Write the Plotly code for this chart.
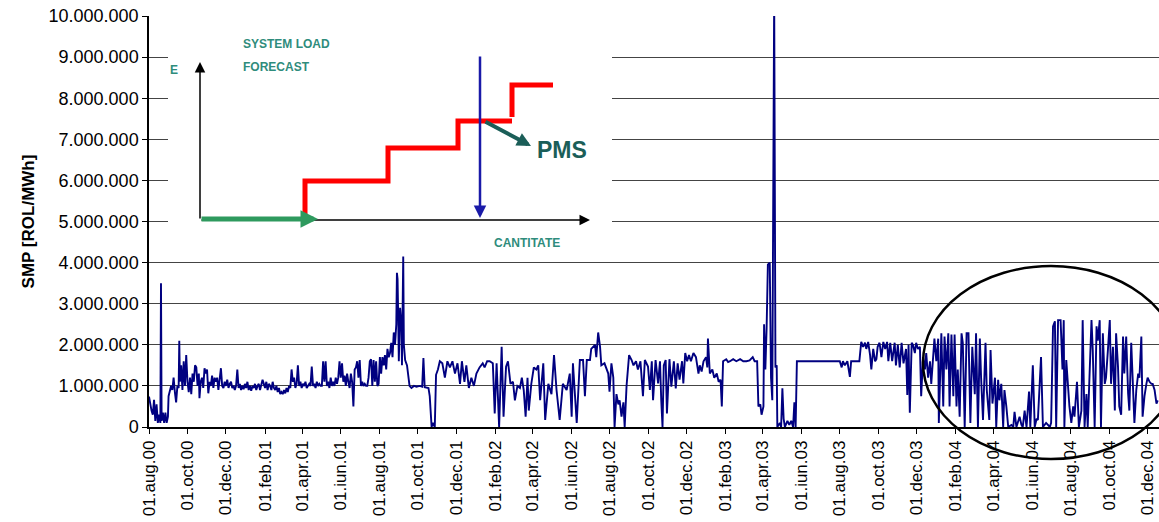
import pandas as pd
import plotly.graph_objects as go

# daily SMP: (days since 01.aug.2000, value in million ROL/MWh)
smp_2000 = [(0, 0.74), (2, 0.55), (4, 0.4), (6, 0.3), (8, 0.66), (10, 0.15), (12, 0.55), (14, 0.1), (16, 0.3),
            (18, 0.1), (19, 3.5), (20, 0.15), (22, 0.35), (24, 0.1), (26, 0.35), (28, 0.1), (30, 0.25), (31, 0.75),
            (33, 0.9), (35, 1.0), (37, 0.9), (39, 1.2), (41, 0.85), (43, 0.6), (45, 1.0), (47, 0.95), (48, 2.1),
            (49, 1.1), (51, 1.5), (53, 0.9), (55, 1.6), (57, 1.0), (59, 1.75), (61, 1.1), (63, 0.85), (65, 1.2),
            (67, 0.8), (69, 1.3), (71, 1.1), (73, 1.5), (75, 1.45), (77, 1.0), (79, 1.3), (80, 0.7), (82, 1.1),
            (84, 1.2), (86, 0.95), (88, 1.43), (90, 1.3), (92, 1.4), (94, 0.82), (96, 1.1), (98, 1.0), (100, 1.25),
            (102, 0.95), (104, 1.2), (106, 1.1), (108, 1.2), (110, 0.9), (112, 1.25), (114, 1.43), (116, 1.0),
            (118, 0.95), (120, 1.1), (122, 1.0), (124, 1.15), (126, 0.95), (128, 1.05), (130, 1.1), (132, 0.95),
            (134, 1.0), (136, 0.9), (138, 1.0), (140, 1.4), (142, 0.95), (144, 1.05), (146, 0.9), (148, 1.0),
            (150, 0.92), (152, 1.05)]

smp_2001 = [(154, 0.95), (156, 1.1), (158, 0.9), (160, 1.0), (162, 0.88), (164, 1.0), (166, 0.95), (168, 1.05),
            (170, 0.9), (172, 1.0), (174, 1.05), (176, 0.9), (178, 1.0), (180, 1.15), (182, 1.05), (184, 0.95),
            (186, 1.1), (188, 0.9), (190, 1.05), (192, 1.0), (194, 0.9), (196, 1.1), (198, 0.95), (200, 0.9),
            (202, 1.0), (204, 0.85), (206, 0.95), (208, 0.8), (210, 0.85), (212, 0.8), (214, 0.9), (216, 0.82),
            (218, 0.95), (220, 0.85), (222, 1.0), (224, 0.95), (226, 1.4), (228, 1.1), (230, 1.2), (232, 0.95),
            (234, 1.05), (236, 1.5), (238, 1.0), (240, 1.1), (242, 0.95), (244, 1.05), (246, 1.0), (248, 1.1),
            (250, 0.95), (252, 1.0), (254, 1.05), (256, 1.0), (258, 1.47), (260, 1.0), (262, 1.05), (264, 0.95),
            (266, 1.1), (268, 1.0), (270, 1.05), (272, 1.0), (274, 1.0), (276, 1.6), (278, 1.1), (280, 1.6),
            (282, 1.0), (284, 1.1), (286, 0.95), (288, 1.2), (290, 1.0), (292, 1.1), (294, 1.0), (296, 1.2),
            (298, 1.05), (300, 1.2), (302, 1.6), (304, 1.2), (306, 1.55), (308, 1.1), (310, 1.25), (312, 1.0),
            (314, 1.3), (316, 1.1), (318, 0.95), (320, 1.3), (322, 1.1), (324, 0.5), (326, 1.4), (328, 1.45),
            (330, 1.6), (332, 1.2), (334, 1.63), (336, 1.0), (338, 1.1), (340, 1.0), (342, 1.05), (344, 1.0),
            (346, 1.0), (348, 1.2), (350, 1.6), (352, 1.65), (354, 1.0), (356, 1.63), (358, 1.1), (360, 1.6),
            (362, 1.0), (364, 1.05), (366, 1.7), (368, 1.3), (370, 1.7), (372, 1.5), (374, 1.75), (376, 1.4),
            (378, 1.9), (380, 1.7), (382, 1.8), (384, 2.05), (386, 1.7), (388, 2.3), (390, 2.0), (392, 2.5),
            (393, 3.75), (394, 3.6), (395, 2.7), (396, 1.6), (398, 2.9), (400, 2.5), (401, 1.5), (403, 4.15),
            (404, 2.0), (406, 1.63), (409, 1.5), (413, 1.0), (416, 0.95), (420, 1.0), (424, 0.98), (429, 1.0),
            (433, 0.98), (435, 1.68), (437, 0.97), (443, 0.95), (445, 0.75), (448, 0.0), (450, 0.1), (453, 0.0),
            (455, 1.27), (458, 1.4), (461, 1.6), (465, 1.55), (469, 1.2), (473, 1.6), (477, 1.45), (481, 1.6),
            (485, 1.3), (489, 1.55), (493, 1.05), (496, 1.6), (500, 1.1), (503, 1.5), (507, 0.95), (511, 1.2),
            (515, 1.0)]

smp_2002 = [(519, 1.3), (524, 1.45), (529, 1.55), (532, 1.45), (536, 1.6), (540, 1.6), (545, 1.55), (548, 0.33),
            (551, 1.55), (555, 0.0), (559, 1.95), (562, 0.25), (566, 1.47), (569, 1.6), (573, 1.05), (577, 1.1),
            (580, 0.65), (584, 1.0), (588, 0.95), (591, 1.2), (594, 0.9), (597, 0.25), (600, 1.2), (602, 0.4),
            (606, 1.05), (610, 1.45), (614, 1.4), (617, 1.5), (620, 0.65), (625, 1.55), (628, 0.17), (633, 1.05),
            (638, 0.8), (642, 1.75), (646, 0.9), (651, 0.17), (656, 1.05), (662, 0.9), (667, 1.3), (670, 0.25),
            (672, 1.55), (678, 0.1), (683, 1.63), (688, 1.63), (691, 0.75), (694, 1.63), (699, 1.63), (701, 1.9),
            (707, 2.0), (709, 1.7), (712, 2.3), (715, 1.95), (717, 1.5), (722, 1.55), (728, 1.3), (730, 0.86),
            (733, 1.55), (736, 1.2), (738, 0.0), (741, 0.8), (744, 0.55), (746, 0.65), (749, 0.25), (752, 0.6),
            (754, 0.0), (757, 1.0), (761, 1.75), (765, 1.63), (768, 1.5), (772, 1.6), (775, 1.4), (779, 1.6),
            (783, 0.75), (786, 1.63), (791, 1.47), (794, 0.9), (797, 1.6), (799, 0.65), (803, 1.63), (807, 1.06),
            (810, 1.6), (812, 0.65), (814, 0.0), (816, 1.5), (819, 1.63), (821, 0.33), (825, 1.65), (828, 0.98),
            (832, 1.6), (835, 0.94), (838, 1.55), (841, 1.15), (845, 1.6), (847, 1.06), (850, 1.8), (853, 1.6),
            (856, 1.75), (859, 1.6), (863, 1.8), (867, 1.7), (871, 1.3), (873, 1.5), (876, 1.35), (879, 1.6)]

smp_2003 = [(883, 1.7), (885, 1.45), (886, 2.15), (889, 1.3), (893, 1.4), (896, 1.2), (900, 1.3), (903, 1.1),
            (906, 1.15), (908, 0.5), (910, 1.6), (915, 1.65), (918, 1.58), (921, 1.6), (926, 1.65), (931, 1.6),
            (934, 1.62), (937, 1.65), (942, 1.6), (947, 1.6), (952, 1.62), (957, 1.7), (960, 1.6), (964, 1.6),
            (966, 0.5), (969, 0.55), (971, 0.3), (974, 0.5), (975, 2.5), (977, 1.4), (979, 2.4), (981, 3.95),
            (984, 4.0), (986, 1.2), (988, 0.65), (991, 10.5), (993, 1.45), (995, 1.5), (996, 0.0), (1000, 0.1),
            (1002, 0.0), (1004, 0.94), (1006, 0.2), (1008, 0.0), (1012, 0.15), (1015, 0.05), (1018, 0.15),
            (1021, 0.0), (1023, 0.6), (1025, 0.0), (1027, 1.6), (1032, 1.6), (1040, 1.6), (1050, 1.61),
            (1060, 1.6), (1070, 1.6), (1080, 1.61), (1090, 1.6), (1095, 1.6), (1098, 1.45), (1100, 1.6),
            (1103, 1.5), (1107, 1.6), (1111, 1.22), (1113, 1.6), (1126, 1.6), (1129, 2.07), (1132, 1.95),
            (1135, 2.05), (1137, 1.9), (1140, 2.07), (1143, 1.75), (1145, 1.4), (1148, 1.9), (1151, 1.6),
            (1153, 1.65), (1155, 1.95), (1158, 2.05), (1161, 1.7), (1164, 2.07), (1167, 1.9), (1170, 2.07),
            (1172, 1.6), (1175, 2.05), (1178, 1.6), (1182, 2.05), (1184, 1.5), (1187, 2.0), (1190, 1.45),
            (1193, 2.05), (1196, 1.55), (1200, 1.9), (1202, 0.78), (1204, 2.0), (1206, 0.35), (1209, 2.05),
            (1211, 2.0), (1214, 1.8), (1216, 2.05), (1219, 1.9), (1222, 1.95), (1224, 0.75), (1227, 1.7),
            (1230, 1.4), (1232, 1.8), (1235, 1.2), (1238, 1.6), (1240, 1.05), (1243, 1.8), (1245, 2.15)]

smp_2004 = [(1248, 1.6), (1251, 2.15), (1252, 0.1), (1256, 2.28), (1259, 0.5), (1261, 2.2), (1264, 1.4),
            (1267, 2.28), (1269, 0.5), (1272, 2.25), (1275, 0.75), (1277, 2.25), (1280, 0.5), (1282, 1.4),
            (1285, 0.25), (1288, 2.28), (1290, 2.05), (1293, 0.0), (1296, 2.28), (1299, 2.28), (1302, 0.1),
            (1305, 1.95), (1309, 0.8), (1311, 2.28), (1314, 0.0), (1317, 2.15), (1319, 1.2), (1322, 0.17),
            (1326, 2.05), (1328, 0.9), (1332, 0.17), (1334, 1.87), (1337, 0.57), (1341, 1.2), (1343, 0.0),
            (1346, 1.15), (1348, 0.65), (1351, 1.05), (1354, 0.0), (1356, 0.9), (1359, 0.5), (1362, 0.0),
            (1367, 0.05), (1370, 0.0), (1372, 0.37), (1375, 0.0), (1380, 0.25), (1383, 0.05), (1385, 0.0),
            (1388, 0.4), (1391, 0.0), (1395, 0.86), (1397, 0.0), (1401, 1.5), (1404, 0.0), (1407, 0.2),
            (1409, 0.17), (1412, 1.3), (1414, 1.7), (1417, 0.0), (1422, 0.1), (1428, 0.0), (1430, 0.1),
            (1433, 2.45), (1436, 2.57), (1438, 0.0), (1441, 2.6), (1445, 2.6), (1448, 1.4), (1450, 2.6),
            (1451, 0.0), (1454, 1.63), (1457, 0.75), (1459, 0.5), (1462, 0.1), (1465, 0.5), (1467, 0.25),
            (1471, 1.1), (1474, 0.0), (1478, 0.4), (1480, 2.6), (1483, 0.0), (1486, 0.8), (1488, 0.0),
            (1494, 2.6), (1496, 1.87), (1499, 0.0), (1502, 2.45), (1504, 2.1), (1507, 2.6), (1509, 0.0),
            (1512, 2.28), (1515, 1.05), (1517, 1.2), (1520, 1.87), (1523, 2.6), (1525, 1.05), (1528, 1.95),
            (1531, 0.4), (1533, 2.28), (1536, 1.47), (1538, 0.5), (1541, 0.3), (1544, 2.2), (1546, 1.3),
            (1549, 2.2), (1552, 0.82), (1554, 0.4), (1557, 2.05), (1560, 0.9), (1562, 0.1), (1565, 0.9),
            (1568, 1.3), (1570, 1.2), (1573, 2.2), (1575, 0.25), (1578, 0.75), (1581, 1.05), (1583, 1.2),
            (1586, 1.1), (1589, 1.05), (1591, 1.05), (1594, 0.9), (1597, 0.57), (1599, 0.65)]

tick_labels = ['01.aug.00', '01.oct.00', '01.dec.00', '01.feb.01', '01.apr.01', '01.iun.01', '01.aug.01',
               '01.oct.01', '01.dec.01', '01.feb.02', '01.apr.02', '01.iun.02', '01.aug.02', '01.oct.02',
               '01.dec.02', '01.feb.03', '01.apr.03', '01.iun.03', '01.aug.03', '01.oct.03', '01.dec.03',
               '01.feb.04', '01.apr.04', '01.iun.04', '01.aug.04', '01.oct.04', '01.dec.04']

start = pd.Timestamp('2000-08-01')
df = pd.DataFrame(smp_2000 + smp_2001 + smp_2002 + smp_2003 + smp_2004, columns=['day', 'smp'])
df['date'] = start + pd.to_timedelta(df['day'], unit='D')
df['smp'] = df['smp'] * 1e6

tick_dates = pd.date_range('2000-08-01', periods=len(tick_labels), freq='2MS')

# plot area in pixels (left, right, top, bottom)
L, R, T, B = 149, 1159, 16, 427
W, H = 1159, 522


def px(x):
    return (x - L) / (R - L)


def py(y):
    return (B - y) / (B - T)


font = 'Liberation Sans, Arial, sans-serif'
teal, dark_teal = '#2f8c7c', '#1b5e58'

fig = go.Figure(go.Scatter(x=df['date'], y=df['smp'], mode='lines',
                           line=dict(color='#000080', width=1.9), hoverinfo='x+y'))

shapes = [
    # white inset background (hides grid lines behind the diagram)
    dict(type='rect', xref='paper', yref='paper', x0=px(168), x1=px(612), y0=py(256), y1=py(17),
         fillcolor='white', line=dict(width=0), layer='above'),
    # red supply curve steps
    dict(type='path', xref='paper', yref='paper', layer='above', line=dict(color='#ff0000', width=5),
         path='M{},{} L{},{} L{},{} L{},{} L{},{} L{},{} L{},{}'.format(
             px(305), py(220), px(305), py(181), px(388), py(181), px(388), py(148),
             px(458), py(148), px(458), py(121), px(512), py(121))),
    dict(type='path', xref='paper', yref='paper', layer='above', line=dict(color='#ff0000', width=5),
         path='M{},{} L{},{} L{},{}'.format(px(512), py(117), px(512), py(85), px(553), py(85))),
    # highlighted region
    dict(type='circle', xref='paper', yref='paper', x0=px(923), x1=px(1179), y0=py(459), y1=py(266),
         line=dict(color='black', width=2.5), layer='above'),
]


def arrow(x0, y0, x1, y1, color, width, head=2, size=1.0):
    return dict(xref='paper', yref='paper', axref='pixel', ayref='pixel', x=px(x1), y=py(y1),
                ax=x0 - x1, ay=y0 - y1, text='', showarrow=True, arrowhead=head, arrowsize=size,
                arrowwidth=width, arrowcolor=color, standoff=0, startstandoff=0)


def label(x, y, text, size, color):
    return dict(xref='paper', yref='paper', x=px(x), y=py(y), text='<b>' + text + '</b>', showarrow=False,
                xanchor='left', yanchor='middle', font=dict(family=font, size=size, color=color))


annotations = [
    arrow(200, 220, 200, 62, 'black', 1.5, head=2, size=1.4),
    arrow(200, 220, 590, 220, 'black', 1.5, head=2, size=1.4),
    arrow(200, 219, 318, 219, '#2e9a5e', 5, head=2, size=0.7),
    arrow(480, 55, 480, 218, '#1a1aa8', 2.5, head=2, size=1.0),
    arrow(484, 121, 531, 146, dark_teal, 4, head=2, size=0.7),
    label(241, 44, 'SYSTEM LOAD', 12, teal),
    label(241, 67, 'FORECAST', 12, teal),
    label(168, 70, 'E', 12, teal),
    label(492, 243, 'CANTITATE', 12, teal),
    label(535, 150, 'PMS', 23, dark_teal),
]

fig.update_layout(width=W, height=H, margin=dict(l=L, r=W - R, t=T, b=H - B),
                  paper_bgcolor='white', plot_bgcolor='white', showlegend=False,
                  separators=',.', font=dict(family=font, color='black'),
                  shapes=shapes, annotations=annotations)

fig.update_xaxes(type='date', range=[start, pd.Timestamp('2004-12-19')],
                 tickvals=tick_dates, ticktext=tick_labels, tickangle=-90,
                 tickfont=dict(size=17), ticks='outside', ticklen=5, tickcolor='black',
                 showgrid=False, showline=True, linecolor='black', linewidth=1.5, zeroline=False)

fig.update_yaxes(range=[0, 10e6], dtick=1e6, tickformat=',d', tickfont=dict(size=18),
                 ticks='outside', ticklen=5, tickcolor='black',
                 showgrid=True, gridcolor='#444444', gridwidth=1,
                 showline=True, linecolor='black', linewidth=1.5, zeroline=False,
                 title=dict(text='<b>SMP [ROL/MWh]</b>', font=dict(size=17), standoff=10))

fig.write_html('out.html', config={'displayModeBar': False},
               post_script="document.body.style.margin='0';")
